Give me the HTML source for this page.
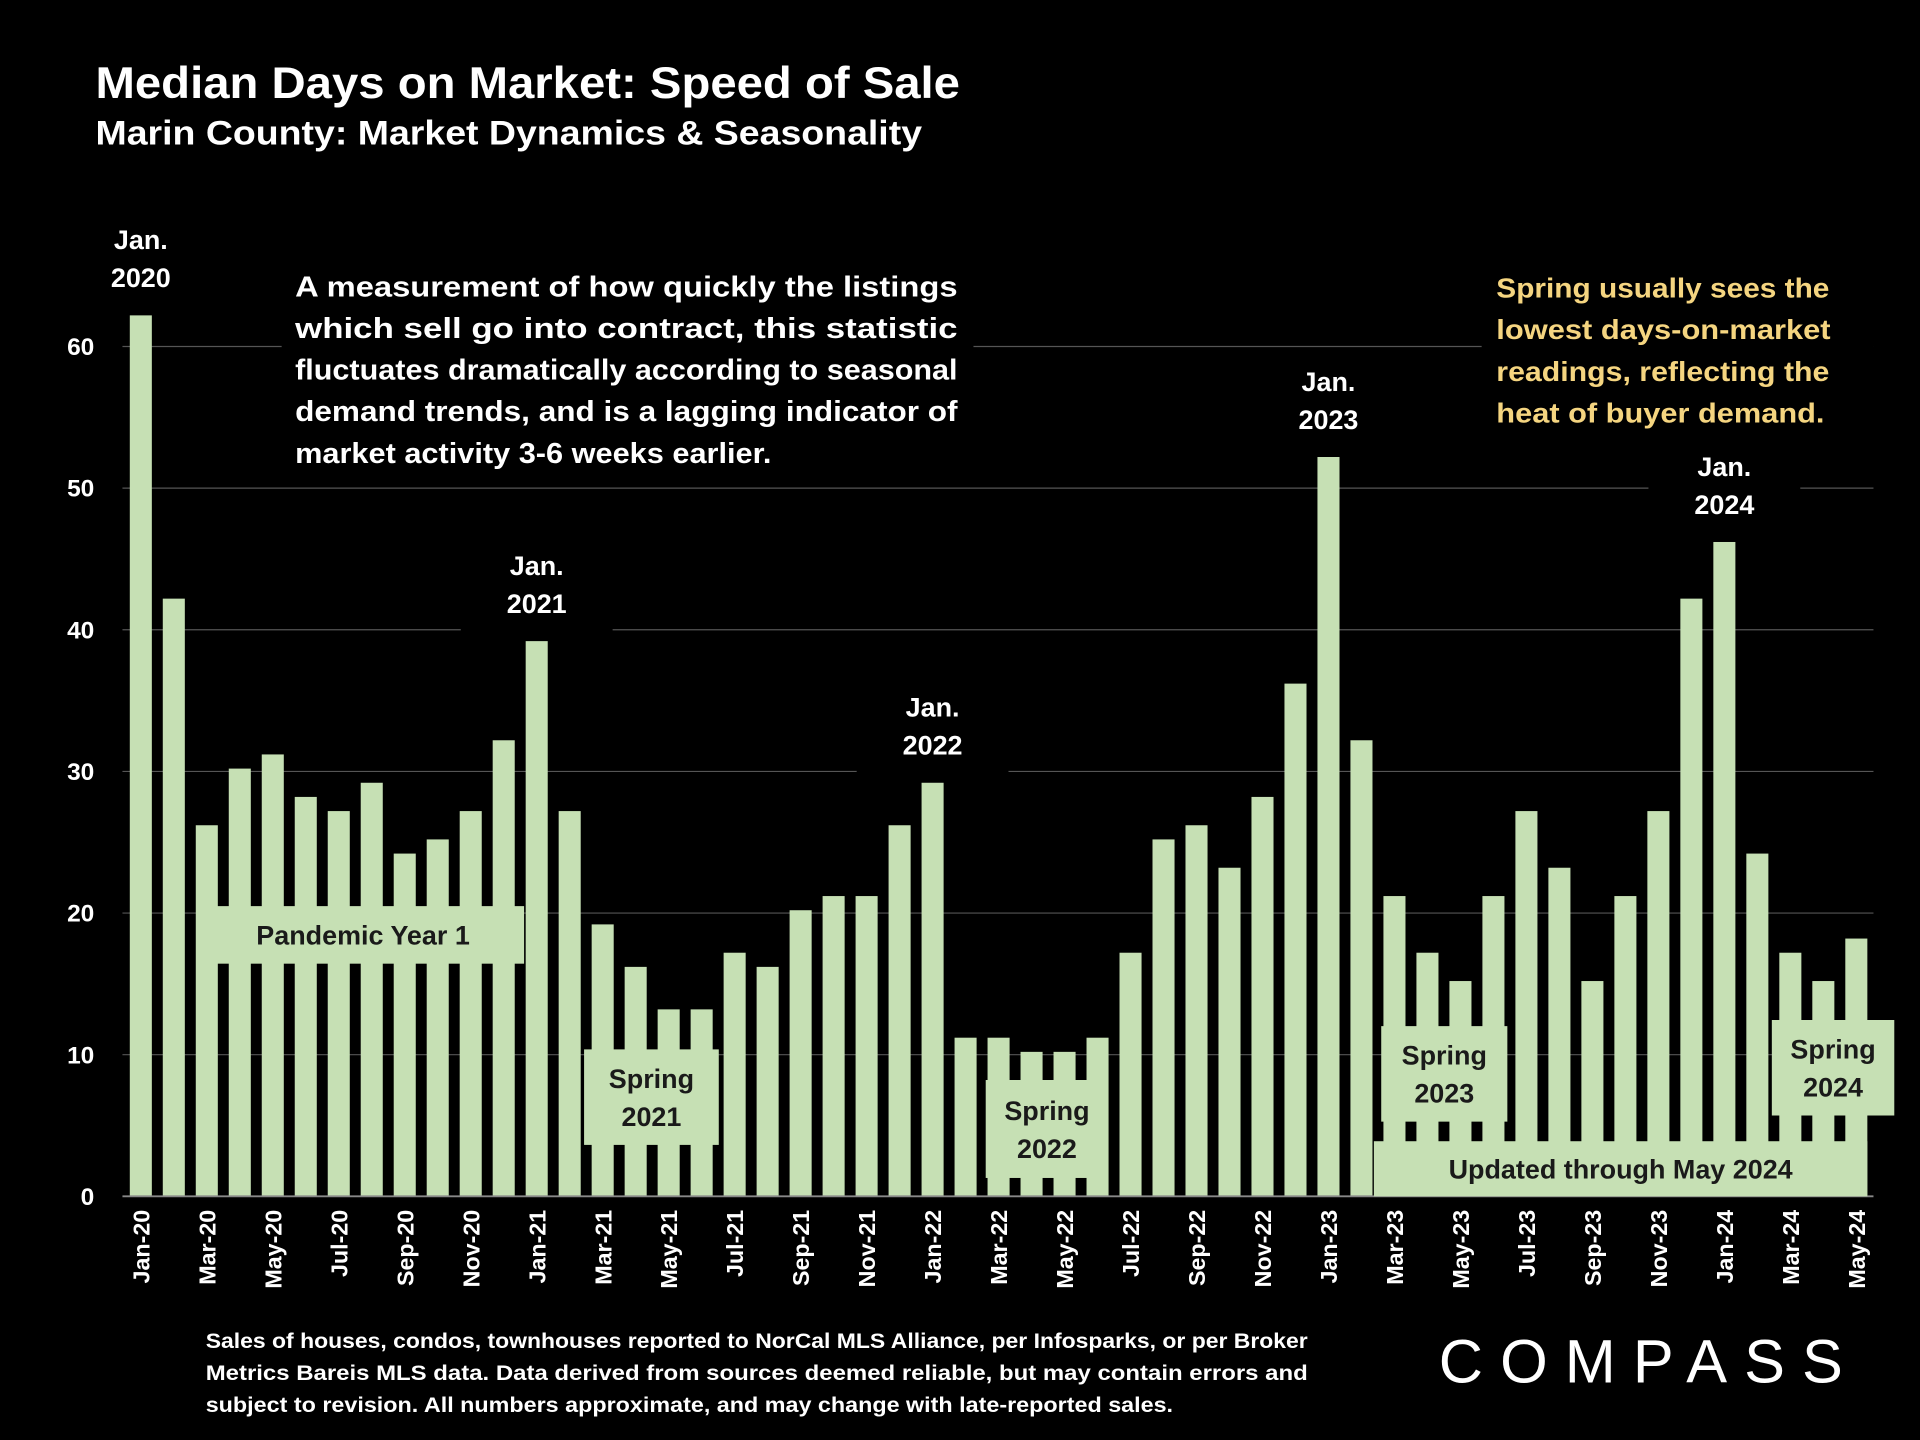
<!DOCTYPE html>
<html><head><meta charset="utf-8"><style>
html,body{margin:0;padding:0;background:#000;}
svg{display:block;font-family:"Liberation Sans",Calibri,sans-serif;}
</style></head><body>
<svg id="chart" width="1920" height="1440" viewBox="0 0 1568 1176" xmlns="http://www.w3.org/2000/svg">
<rect width="1568" height="1176" fill="#000"/>
<text x="78" y="80" fill="#fff" font-size="36" font-weight="bold" textLength="706" lengthAdjust="spacingAndGlyphs">Median Days on Market:  Speed of Sale</text>
<text x="78" y="118" fill="#fff" font-size="28" font-weight="bold" textLength="675" lengthAdjust="spacingAndGlyphs">Marin County: Market Dynamics &amp; Seasonality</text>
<g id="grid"></g>
<g id="yaxis"></g>
<g id="bars"></g>
<g id="xaxis"></g>
<g id="notes">
<rect x="230" y="218" width="565" height="172" fill="#000"/>
<g fill="#fff" font-size="23.5" font-weight="bold">
<text x="241" y="242" textLength="541" lengthAdjust="spacingAndGlyphs">A measurement of how quickly the listings</text>
<text x="241" y="276" textLength="541" lengthAdjust="spacingAndGlyphs">which sell go into contract, this statistic</text>
<text x="241" y="310" textLength="541" lengthAdjust="spacingAndGlyphs">fluctuates dramatically according to seasonal</text>
<text x="241" y="344" textLength="541" lengthAdjust="spacingAndGlyphs">demand trends, and is a lagging indicator of</text>
<text x="241" y="378" textLength="389" lengthAdjust="spacingAndGlyphs">market activity 3-6 weeks earlier.</text>
</g>
<rect x="1210" y="218" width="320" height="140" fill="#000"/>
<g fill="#f5d580" font-size="23" font-weight="bold">
<text x="1222" y="243" textLength="272" lengthAdjust="spacingAndGlyphs">Spring usually sees the</text>
<text x="1222" y="277" textLength="273" lengthAdjust="spacingAndGlyphs">lowest days-on-market</text>
<text x="1222" y="311" textLength="272" lengthAdjust="spacingAndGlyphs">readings, reflecting the</text>
<text x="1222" y="345" textLength="268" lengthAdjust="spacingAndGlyphs">heat of buyer demand.</text>
</g>
</g>
<text x="1175" y="1129" fill="#fff" font-size="50" textLength="330" lengthAdjust="spacing">COMPASS</text>
<g fill="#fff" font-size="17.5" font-weight="bold">
<text x="168" y="1101" textLength="900" lengthAdjust="spacingAndGlyphs">Sales of houses, condos, townhouses reported to NorCal MLS Alliance, per Infosparks, or per Broker</text>
<text x="168" y="1127" textLength="900" lengthAdjust="spacingAndGlyphs">Metrics Bareis MLS data. Data derived from sources deemed reliable, but may contain errors and</text>
<text x="168" y="1153" textLength="790" lengthAdjust="spacingAndGlyphs">subject to revision. All numbers approximate, and may change with late-reported sales.</text>
</g>
</svg>
<script>
const months = ["Jan-20","Feb-20","Mar-20","Apr-20","May-20","Jun-20","Jul-20","Aug-20","Sep-20","Oct-20","Nov-20","Dec-20","Jan-21","Feb-21","Mar-21","Apr-21","May-21","Jun-21","Jul-21","Aug-21","Sep-21","Oct-21","Nov-21","Dec-21","Jan-22","Feb-22","Mar-22","Apr-22","May-22","Jun-22","Jul-22","Aug-22","Sep-22","Oct-22","Nov-22","Dec-22","Jan-23","Feb-23","Mar-23","Apr-23","May-23","Jun-23","Jul-23","Aug-23","Sep-23","Oct-23","Nov-23","Dec-23","Jan-24","Feb-24","Mar-24","Apr-24","May-24"];
const daysOnMarket = [62.2,42.2,26.2,30.2,31.2,28.2,27.2,29.2,24.2,25.2,27.2,32.2,39.2,27.2,19.2,16.2,13.2,13.2,17.2,16.2,20.2,21.2,21.2,26.2,29.2,11.2,11.2,10.2,10.2,11.2,17.2,25.2,26.2,23.2,28.2,36.2,52.2,32.2,21.2,17.2,15.2,21.2,27.2,23.2,15.2,21.2,27.2,42.2,46.2,24.2,17.2,15.2,18.2];
const yTicks = [0,10,20,30,40,50,60];
const NS="http://www.w3.org/2000/svg";
const x0=115, step=(1516-115)/52, yBase=977, yPer=(977-283)/60, bw=18;
const xs=i=>x0+i*step;
const ys=v=>yBase-v*yPer;
function mk(tag,attrs,parent){const e=document.createElementNS(NS,tag);for(const k in attrs)e.setAttribute(k,attrs[k]);parent.appendChild(e);return e;}
const grid=document.getElementById('grid'),yaxis=document.getElementById('yaxis'),bars=document.getElementById('bars'),xaxis=document.getElementById('xaxis');
yTicks.forEach(t=>{
  if(t>0){const l=mk('line',{x1:100,x2:1530,y1:ys(t),y2:ys(t),stroke:'#555','stroke-width':1},grid);
  
  }
  const tx=mk('text',{x:77,y:ys(t)+7,fill:'#fff','font-size':20,'font-weight':'bold','text-anchor':'end'},yaxis);
  tx.textContent=t;
  
  
});
daysOnMarket.forEach((v,i)=>{
  const r=mk('rect',{x:xs(i)-bw/2,y:ys(v),width:bw,height:v*yPer,fill:'#c6e0b4'},bars);
  
  
});
const ax=mk('line',{x1:100,x2:1530,y1:yBase,y2:yBase,stroke:'#888','stroke-width':1.5},xaxis);


months.forEach((m,i)=>{
  if(i%2)return;
  const t=mk('text',{x:0,y:0,fill:'#fff','font-size':19,'font-weight':'bold','text-anchor':'end',transform:`translate(${xs(i)+7},988) rotate(-90)`},xaxis);
  t.textContent=m;
  
  
});
const notes=document.getElementById('notes');
function janLabel(i,year){
  const v=daysOnMarket[i],cx=xs(i),top=ys(v);
  const bg=mk('rect',{x:cx-62,y:top-80,width:124,height:76,fill:'#000'},notes);
  
  
  const t1=mk('text',{x:cx,y:top-54,fill:'#fff','font-size':22,'font-weight':'bold','text-anchor':'middle'},notes);
  t1.textContent='Jan.';
  
  
  const t2=mk('text',{x:cx,y:top-23,fill:'#fff','font-size':22,'font-weight':'bold','text-anchor':'middle'},notes);
  t2.textContent=year;
  
  
}
janLabel(0,'2020');janLabel(12,'2021');janLabel(24,'2022');janLabel(36,'2023');janLabel(48,'2024');
function box(x,y,w,h,lines,name){
  const r=mk('rect',{x:x,y:y,width:w,height:h,fill:'#c6e0b4'},notes);
  
  
  const n=lines.length;
  lines.forEach((s,k)=>{
    const t=mk('text',{x:x+w/2,y:y+h/2+8+(k-(n-1)/2)*31,fill:'#1a1a1a','font-size':22,'font-weight':'bold','text-anchor':'middle'},notes);
    t.textContent=s;
    
    
  });
}
box(165,740,263,47,['Pandemic Year 1'],'pandemic-label');
box(477,857,110,78,['Spring','2021'],'spring-2021-label');
box(805,882,100,80,['Spring','2022'],'spring-2022-label');
box(1128,838,103,78,['Spring','2023'],'spring-2023-label');
box(1122,932,403,45,['Updated through May 2024'],'updated-label');
box(1447,833,100,78,['Spring','2024'],'spring-2024-label');
</script>
</body></html>
